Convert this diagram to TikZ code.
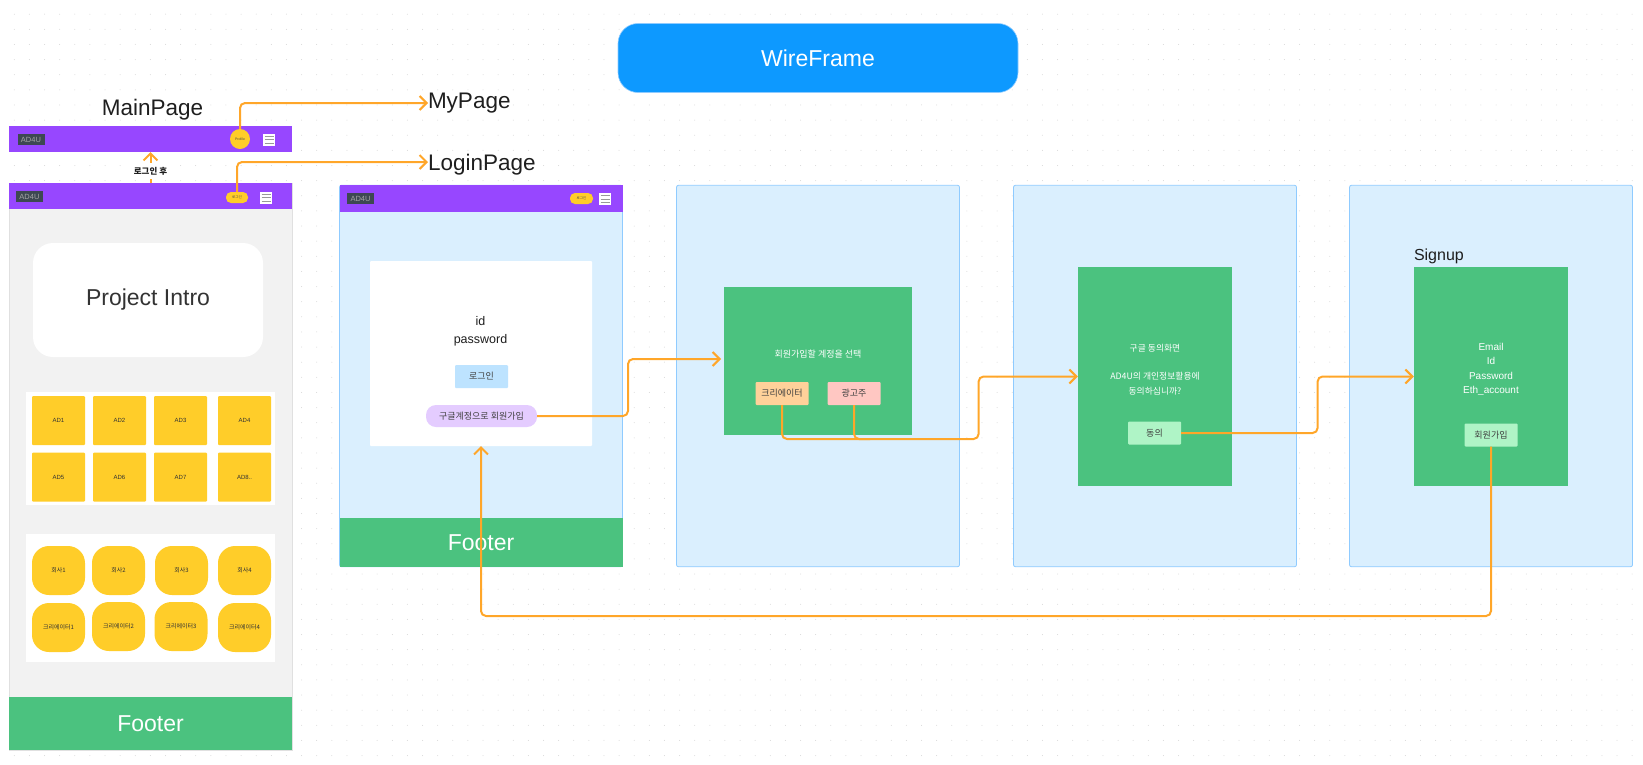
\documentclass[tikz,border=0pt]{standalone}
\usepackage{fontspec}
\setmainfont{Liberation Sans}
\newfontfamily\cjk{Noto Sans CJK KR}
\usetikzlibrary{arrows.meta}
\definecolor{purplebar}{HTML}{9747FF}
\definecolor{greenbox}{HTML}{4BC27F}
\definecolor{yellowbox}{HTML}{FFCD29}
\definecolor{bluepanel}{HTML}{DAEFFE}
\definecolor{blueline}{HTML}{8FCBFF}
\definecolor{flowline}{HTML}{FFA629}
\definecolor{darktext}{HTML}{1E1E1E}
\definecolor{logogray}{HTML}{3D4852}
\definecolor{titleblue}{HTML}{0D99FF}
\definecolor{loginblue}{HTML}{BDE3FF}
\definecolor{joinpurple}{HTML}{E4CCFF}
\definecolor{creatororange}{HTML}{FFD19A}
\definecolor{advertiserred}{HTML}{FFC7C2}
\definecolor{agreegreen}{HTML}{AFF4C6}
\tikzset{
    box/.style={inner sep=0, outer sep=0, align=center},
    heading/.style={box, text=darktext, font=\fontsize{22.5}{27}\selectfont},
    panel/.style={box, fill=bluepanel, draw=blueline, line width=0.8pt, rounded corners=2, minimum width=283, minimum height=381.5},
    bar/.style={box, fill=purplebar, minimum width=283, minimum height=26},
    footer/.style={box, fill=greenbox, text=white, minimum width=283, font=\fontsize{23}{28}\selectfont},
    greenpanel/.style={box, fill=greenbox},
    logo/.style={box, fill=logogray, text=black!35, minimum width=27, minimum height=11, font=\fontsize{7.5}{8}\selectfont},
    menubox/.style={box, fill=white, minimum width=12, minimum height=12},
    menuline/.style={draw=gray!80, line width=1pt},
    tinybtn/.style={box, fill=yellowbox, text=black!70, font=\cjk\fontsize{3.5}{4}\selectfont},
    adbox/.style={box, fill=yellowbox, text=black!80, minimum width=53, minimum height=49, rounded corners=1, font=\fontsize{6}{7}\selectfont},
    companybox/.style={box, fill=yellowbox, text=black!80, minimum width=53, minimum height=49, rounded corners=17, font=\cjk\fontsize{6}{7}\selectfont},
    button/.style={box, text=black!75, minimum width=53, minimum height=23, rounded corners=1, font=\cjk\fontsize{9}{10}\selectfont},
    flow/.style={draw=flowline, line width=2pt, rounded corners=5},
    flowtip/.style={flow, -{Straight Barb[length=7pt,width=14pt]}},
}
\newcommand{\menuicon}[3]{
    \node[menubox] (#1) at (#2,#3) {};
    \foreach \dy in {-3.5,0,3.5}
        \draw[menuline] (#2-4.5,#3+\dy) -- (#2+4.5,#3+\dy);
}
\begin{document}
\begin{tikzpicture}[x=1pt,y=-1pt]
    \useasboundingbox (0,0) rectangle (1643,764);
    % dotted canvas
    \foreach \i in {0,...,107}
        \foreach \j in {0,...,49}
            \fill[black!16] (14.3+15.12*\i,14.2+15.13*\j) circle (0.5);

    \node[box, minimum width=400, minimum height=69, rounded corners=20, fill=titleblue, draw=blueline, line width=0.6pt, text=white, font=\fontsize{23}{28}\selectfont] (title) at (818,58) {WireFrame};

    \node[heading, anchor=center] (mainpagelabel) at (152.5,110) {MainPage};
    \node[heading, anchor=west] (mypagelabel) at (428,103) {MyPage};
    \node[heading, anchor=west] (loginpagelabel) at (428,165) {LoginPage};

    % logged-in bar
    \node[bar] (topbar) at (150.5,139) {};
    \node[logo] (toplogo) at (31,139.5) {AD4U};
    \node[tinybtn, circle, minimum width=20, minimum height=18] (profile) at (240,139) {\fontspec{Liberation Sans}Profile};
    \menuicon{topmenu}{269}{139.5}

    % main page
    \node[box, fill=black!5, draw=black!12, line width=0.8pt, minimum width=283, minimum height=567] (mainframe) at (150.5,466.5) {};
    \node[bar] (mainbar) at (150.5,196) {};
    \node[logo] (mainlogo) at (29.5,196.5) {AD4U};
    \node[tinybtn, rounded corners=5, minimum width=22, minimum height=11] (mainlogin) at (237,197.5) {로그인};
    \menuicon{mainmenu}{266}{197.5}
    \node[box, fill=white, minimum width=230, minimum height=114, rounded corners=20, text=black!80, font=\fontsize{23}{28}\selectfont] (intro) at (148,300) {Project Intro};

    \node[box, fill=white, minimum width=249, minimum height=113] (adpanel) at (150.5,448.5) {};
    \foreach \n/\cx/\cy/\lab in {1/58.5/420.5/AD1, 2/119.5/420.5/AD2, 3/180.5/420.5/AD3, 4/244.5/420.5/AD4,
        5/58.5/477/AD5, 6/119.5/477/AD6, 7/180.5/477/AD7, 8/244.5/477/AD8..}
        \node[adbox] (ad\n) at (\cx,\cy) {\lab};

    \node[box, fill=white, minimum width=249, minimum height=128] (companypanel) at (150.5,598) {};
    \foreach \n/\cx/\cy/\lab in {1/58.5/570.5/회사1, 2/118.5/570.5/회사2, 3/181.5/570.5/회사3, 4/244.5/570.5/회사4,
        5/58.5/627.5/크리에이터1, 6/118.5/626.5/크리에이터2, 7/181/626.5/크리에이터3, 8/244.5/627.5/크리에이터4}
        \node[companybox] (company\n) at (\cx,\cy) {\lab};

    \node[footer, minimum height=53] (mainfooter) at (150.5,723.5) {Footer};

    % login page
    \node[panel] (loginpanel) at (481,376) {};
    \node[bar, minimum height=27] (loginbar) at (481,198.5) {};
    \node[logo] (loginlogo) at (360.5,198.5) {AD4U};
    \node[tinybtn, rounded corners=5, minimum width=23, minimum height=11] (loginbtn) at (581.5,198.5) {로그인};
    \menuicon{loginmenu}{605}{199}
    \node[footer, minimum height=49] (loginfooter) at (481,542.5) {Footer};
    \node[box, fill=white, minimum width=222, minimum height=185, rounded corners=1] (loginform) at (481,353.5) {};
    \node[box, text=darktext, font=\fontsize{12.5}{18}\selectfont] (credentials) at (480.5,331) {id\\password};
    \node[button, fill=loginblue] (login) at (481.5,376.5) {로그인};
    \node[button, fill=joinpurple, minimum width=111, minimum height=22, rounded corners=10] (joinpill) at (481.5,416) {구글계정으로 회원가입};

    % account type
    \node[panel] (typepanel) at (818,376) {};
    \node[greenpanel, minimum width=188, minimum height=148] (typebox) at (818,361) {};
    \node[box, text=white, font=\cjk\fontsize{9}{10}\selectfont] (typetext) at (818,354) {회원가입할 계정을 선택};
    \node[button, fill=creatororange] (creator) at (782,393.5) {크리에이터};
    \node[button, fill=advertiserred] (advertiser) at (854,393.5) {광고주};

    % google consent
    \node[panel] (consentpanel) at (1155,376) {};
    \node[greenpanel, minimum width=154.5, minimum height=219] (consentbox) at (1155,376.5) {};
    \node[box, text=white, font=\cjk\fontsize{8.8}{15}\selectfont] (consenttext) at (1155,369.5) {구글 동의화면\\[13pt]AD4U의 개인정보활용에\\동의하십니까?};
    \node[button, fill=agreegreen] (agree) at (1154.5,433) {동의};

    % signup
    \node[panel] (signuppanel) at (1491,376) {};
    \node[greenpanel, minimum width=154.5, minimum height=219] (signupbox) at (1491,376.5) {};
    \node[box, text=darktext, anchor=west, font=\fontsize{16}{20}\selectfont] (signuplabel) at (1414,256) {Signup};
    \node[box, text=white, font=\fontsize{10}{14.4}\selectfont] (signuptext) at (1491,369.5) {Email\\Id\\Password\\Eth\_account};
    \node[button, fill=agreegreen] (signupbtn) at (1491,435) {회원가입};

    \coordinate (bendA) at (628,359);
    \coordinate (bendB) at (978.6,439);
    \coordinate (bendC) at (1317.6,405);
    \coordinate (bendD) at (481,616);
    \coordinate (joinE) at (870,439);

    % connectors
    \draw[flowtip] (mainbar.north) -- (topbar.south);
    \node[box, fill=white, minimum width=40, minimum height=16, text=darktext, font=\cjk\bfseries\fontsize{8.5}{10}\selectfont] (afterlogin) at (150.5,171) {로그인 후};
    \draw[flowtip] (profile.north) |- (mypagelabel.west);
    \draw[flowtip] (mainlogin.north) |- ([yshift=3pt]loginpagelabel.west);
    \draw[flowtip, shorten >=3pt] (joinpill.east) -| (bendA) -- (bendA -| typebox.west);
    \draw[flow] (advertiser.south) |- (joinE);
    \draw[flowtip] (creator.south) |- (bendB) |- (consentbox.west);
    \draw[flowtip] (agree.east) -| (bendC) |- (signupbox.west);
    \draw[flowtip] (signupbtn.south) |- (bendD) -- (loginform.south);
\end{tikzpicture}
\end{document}
